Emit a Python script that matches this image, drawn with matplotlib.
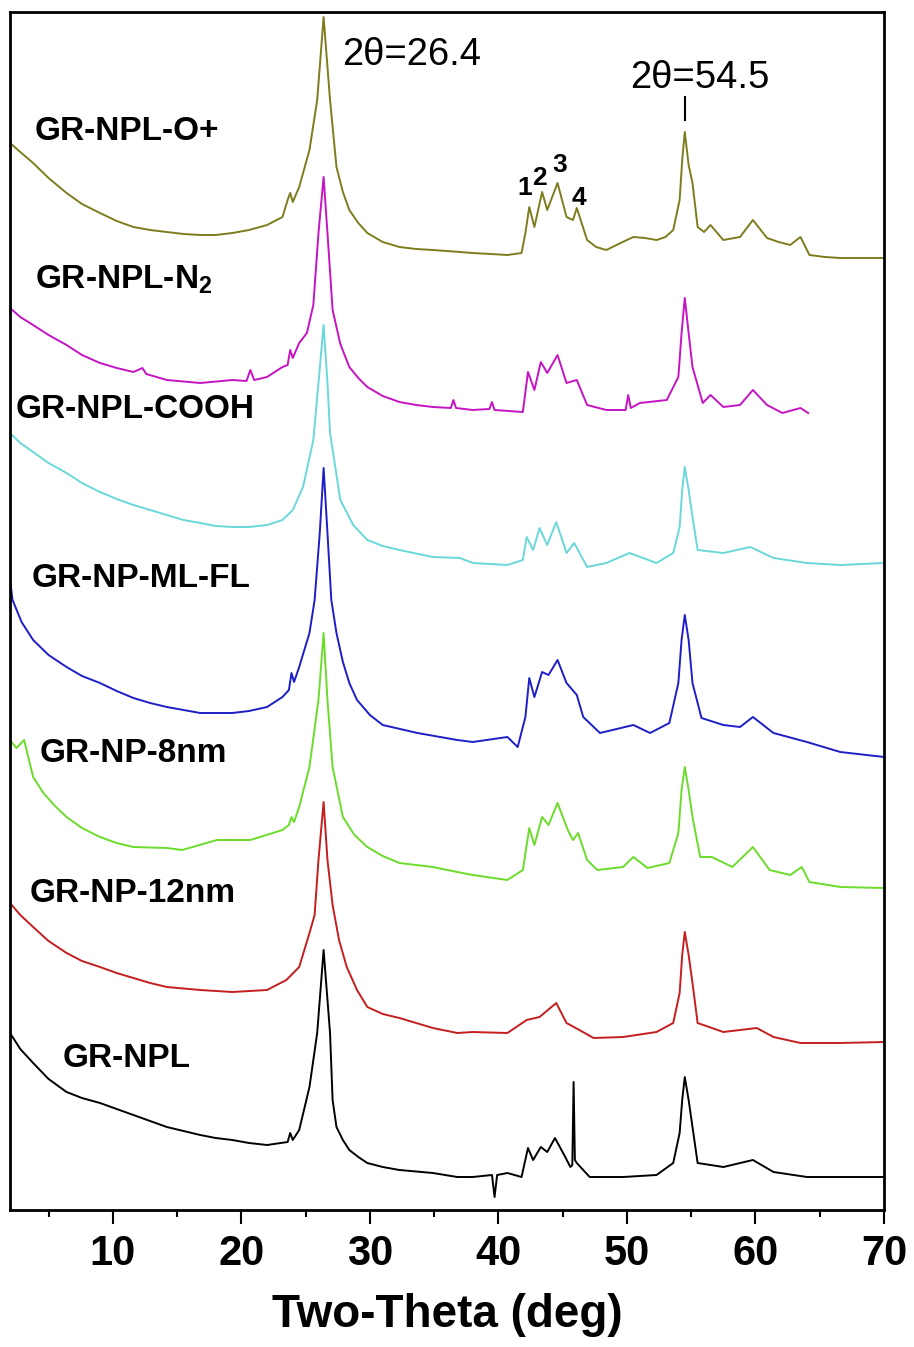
import matplotlib
matplotlib.use("Agg")
import matplotlib.pyplot as plt
from matplotlib.ticker import MultipleLocator

plt.rcParams['font.family'] = ['Liberation Sans', 'DejaVu Sans']
plt.rcParams['mathtext.fontset'] = 'custom'
plt.rcParams['mathtext.rm'] = 'Liberation Sans'
plt.rcParams['mathtext.bf'] = 'Liberation Sans:bold'

# XRD patterns (2-theta in deg, intensity in a.u., already stacked)
NPL_O_TT = [2.0, 2.8, 3.8, 5.0, 6.4, 7.6, 9.0, 10.3, 11.6, 12.9, 14.2, 15.5, 16.8, 18.0, 19.3,
            20.6, 22.0, 23.2, 23.6, 23.8, 24.0, 24.5, 25.3, 25.9, 26.1, 26.4, 26.7, 26.9, 27.4,
            27.9, 28.4, 29.1, 29.8, 31.0, 32.3, 33.6, 34.9, 37.0, 38.0, 39.4, 40.7, 41.8,
            42.1, 42.4, 42.8, 43.4, 43.8, 44.6, 45.3, 45.8, 46.1, 46.9, 47.6, 48.4, 49.5, 50.5,
            51.4, 52.3, 53.0, 53.6, 54.1, 54.3, 54.5, 54.8, 55.1, 55.5, 56.0, 56.5, 57.5, 58.8,
            59.8, 60.9, 61.8, 62.7, 63.5, 64.2, 65.4, 66.6, 68.3, 70.0]
NPL_O_I = [1067, 1058, 1047, 1032, 1017, 1006, 997, 989, 983, 980, 978, 976, 975, 975, 977,
           980, 985, 993, 1010, 1017, 1008, 1023, 1060, 1110, 1143, 1193, 1143, 1110, 1043,
           1018, 1000, 987, 977, 968, 963, 961, 960, 958, 957, 956, 955, 957,
           977, 1003, 983, 1018, 1000, 1027, 993, 990, 1002, 970, 963, 960, 967, 973,
           972, 970, 973, 980, 1010, 1050, 1078, 1045, 1027, 983, 978, 985, 970, 973,
           990, 972, 968, 965, 973, 955, 953, 952, 952, 952]

NPL_N2_TT = [2.0, 2.8, 3.8, 5.0, 6.4, 7.6, 9.0, 10.3, 11.6, 12.3, 12.6, 14.2, 16.8, 19.3, 20.4,
             20.7, 21.0, 22.0, 23.2, 23.6, 23.8, 24.0, 24.5, 25.1, 25.6, 26.0, 26.4, 26.7, 27.1,
             27.7, 28.4, 29.1, 29.8, 31.0, 32.3, 33.6, 34.9, 36.3, 36.5, 36.7, 38.0, 39.3, 39.5,
             39.7, 41.9, 42.3, 42.8, 43.3, 43.8, 44.6, 45.3, 46.1, 46.9, 48.4, 49.9, 50.1, 50.3,
             51.0, 53.1, 54.0, 54.25, 54.5, 54.8, 55.1, 55.9, 56.5, 57.5, 58.8, 59.8, 60.9, 62.1,
             63.5, 64.1]
NPL_N2_I = [902, 893, 885, 875, 865, 855, 847, 842, 838, 842, 836, 830, 827, 830, 829,
            840, 830, 833, 843, 845, 860, 852, 867, 877, 905, 977, 1033, 977, 900,
            866, 843, 832, 823, 814, 808, 805, 803, 802, 810, 802, 800, 801, 808,
            800, 798, 838, 820, 848, 837, 855, 827, 830, 805, 800, 800, 815, 802,
            807, 810, 833, 877, 912, 877, 843, 807, 815, 803, 805, 820, 805, 797,
            802, 797]

NPL_COOH_TT = [2.0, 2.8, 3.8, 5.0, 6.4, 7.6, 9.0, 10.3, 11.6, 12.9, 14.2, 15.5, 16.8, 18.0, 19.3,
               20.6, 22.0, 23.2, 24.0, 24.8, 25.6, 26.0, 26.4, 26.7, 26.9, 27.7, 28.7, 29.8,
               31.0, 32.3, 34.9, 37.0, 38.0, 40.7, 41.9, 42.2, 42.7, 43.2, 43.8, 44.5, 45.3,
               45.9, 46.9, 48.4, 50.2, 52.3, 53.6, 54.1, 54.3, 54.5, 54.8, 55.1, 55.5, 57.5,
               59.6, 61.4, 64.0, 66.6, 70.0]
NPL_COOH_I = [777, 767, 758, 747, 737, 727, 718, 711, 705, 700, 695, 690, 687, 684, 683,
              683, 685, 690, 700, 723, 770, 827, 885, 827, 777, 710, 685, 670,
              664, 660, 653, 652, 647, 645, 650, 673, 660, 682, 665, 688, 657,
              667, 643, 647, 657, 647, 657, 683, 720, 743, 720, 693, 660, 657,
              663, 652, 647, 645, 647]

NP_MLFL_TT = [2.0, 2.2, 2.9, 3.8, 5.0, 6.4, 7.6, 9.0, 10.3, 11.6, 12.9, 14.2, 15.5, 16.8, 19.3,
              20.6, 22.0, 23.2, 23.7, 23.9, 24.1, 24.5, 25.3, 25.7, 26.1, 26.4, 26.7, 27.0, 27.4,
              27.9, 28.4, 29.0, 30.0, 31.0, 33.7, 36.8, 38.0, 40.7, 41.5, 42.1, 42.4, 42.8, 43.4,
              43.9, 44.6, 45.3, 46.1, 46.6, 47.9, 50.5, 51.8, 53.3, 54.0, 54.25, 54.5, 54.8, 55.1,
              55.8, 57.5, 58.8, 59.8, 61.4, 64.0, 66.6, 70.0]
NP_MLFL_I = [630, 610, 588, 570, 555, 543, 534, 527, 519, 512, 507, 503, 500, 497, 497,
             499, 503, 513, 520, 537, 528, 543, 577, 610, 677, 742, 677, 610, 577,
             548, 527, 510, 495, 485, 477, 470, 468, 473, 463, 493, 532, 513, 538,
             535, 550, 527, 515, 493, 477, 485, 477, 487, 527, 570, 595, 570, 527,
             492, 485, 483, 493, 477, 468, 458, 453]

NP_8_TT = [2.0, 2.5, 3.1, 3.8, 4.6, 5.5, 6.4, 7.6, 9.0, 10.3, 11.6, 14.2, 15.4, 18.1, 20.7,
           23.2, 23.7, 23.9, 24.1, 24.5, 25.3, 26.0, 26.4, 26.7, 27.1, 27.9, 28.8, 29.8, 31.0,
           32.3, 34.9, 36.8, 38.0, 40.7, 41.9, 42.4, 42.8, 43.4, 43.9, 44.6, 45.4, 45.8, 46.2,
           46.9, 47.7, 49.7, 50.5, 51.6, 53.3, 54.0, 54.25, 54.5, 54.8, 55.1, 55.7, 56.6, 58.2,
           59.8, 61.1, 62.7, 63.6, 64.2, 66.6, 70.0]
NP_8_I = [470, 462, 470, 433, 417, 404, 393, 382, 373, 367, 363, 362, 360, 370, 370,
          380, 385, 393, 388, 403, 443, 510, 577, 510, 443, 393, 375, 363, 354,
          347, 343, 338, 335, 330, 340, 382, 365, 393, 385, 407, 380, 370, 377,
          350, 340, 343, 353, 342, 347, 377, 420, 443, 420, 393, 353, 353, 343,
          363, 340, 335, 343, 328, 323, 322]

NP_12_TT = [2.0, 2.8, 3.8, 5.0, 6.4, 7.6, 9.0, 10.3, 11.6, 12.9, 14.2, 16.8, 19.3, 22.0, 23.5,
            24.5, 25.3, 25.7, 26.0, 26.4, 26.7, 27.1, 27.6, 28.2, 29.0, 29.8, 31.0, 32.3, 34.9,
            36.8, 38.0, 40.7, 42.2, 43.2, 44.5, 45.3, 46.3, 47.4, 49.7, 52.3, 53.6, 54.1, 54.3,
            54.5, 54.8, 55.1, 55.5, 57.5, 60.1, 61.4, 63.5, 66.6, 70.0]
NP_12_I = [307, 295, 283, 269, 257, 249, 243, 237, 232, 227, 223, 220, 218, 220, 230,
           243, 277, 295, 350, 408, 350, 305, 270, 243, 220, 203, 196, 192, 182,
           177, 178, 177, 190, 193, 207, 187, 180, 172, 173, 178, 187, 217, 255,
           278, 255, 227, 187, 178, 182, 173, 167, 167, 168]

NPL_TT = [2.0, 2.8, 3.8, 5.0, 6.4, 7.6, 9.0, 10.3, 11.6, 12.9, 14.2, 15.5, 16.8, 18.0, 19.3,
          20.6, 22.0, 23.6, 23.8, 24.0, 24.5, 25.3, 25.9, 26.4, 26.9, 27.1, 27.4, 27.9, 28.4,
          29.1, 29.8, 31.0, 32.3, 34.9, 36.8, 38.0, 39.5, 39.7, 39.9, 40.7, 41.8, 42.3, 42.7,
          43.3, 43.8, 44.4, 45.2, 45.6, 45.75, 45.85, 45.95, 46.1, 47.1, 49.7, 52.3, 53.6, 54.1,
          54.3, 54.5, 54.8, 55.1, 55.5, 57.5, 59.8, 61.4, 64.0, 66.6, 70.0]
NPL_I = [177, 161, 147, 131, 118, 112, 107, 101, 95, 89, 83, 79, 75, 72, 70,
         67, 65, 68, 77, 70, 80, 123, 177, 260, 177, 110, 83, 70, 60,
         53, 47, 43, 40, 37, 33, 33, 35, 13, 35, 37, 33, 62, 50,
         63, 58, 72, 53, 43, 45, 128, 50, 47, 33, 33, 35, 47, 77,
         110, 133, 110, 83, 47, 43, 50, 38, 33, 33, 33]

LABELS = ['GR-NPL-O+', 'GR-NPL-N$_\\mathbf{2}$', 'GR-NPL-COOH', 'GR-NP-ML-FL',
          'GR-NP-8nm', 'GR-NP-12nm', 'GR-NPL']
COLORS = ['#7d7d1e', '#c414c4', '#6ad8d8', '#1e1ec8', '#6cdc2c', '#c41e1e', '#000000']
# label anchor (deg, a.u.), baseline-aligned
LABEL_POS = [(3.95, 1070), (3.95, 922), (2.4, 792), (3.7, 623), (4.3, 448), (3.55, 308), (6.1, 143)]

series = [(NPL_O_TT, NPL_O_I), (NPL_N2_TT, NPL_N2_I), (NPL_COOH_TT, NPL_COOH_I),
          (NP_MLFL_TT, NP_MLFL_I), (NP_8_TT, NP_8_I), (NP_12_TT, NP_12_I), (NPL_TT, NPL_I)]

fig = plt.figure(figsize=(9.14, 13.47), dpi=100)
ax = fig.add_axes([10/914, 137/1347, 874/914, 1198/1347])

for (tt, inten), c in zip(series, COLORS):
    ax.plot(tt, inten, color=c, lw=1.4)

for lab, (x, y) in zip(LABELS, LABEL_POS):
    ax.text(x, y, lab, fontsize=24, fontweight='bold', va='baseline', ha='left')

# peak annotations
ax.text(27.85, 1145, '2\u03b8=26.4', fontsize=27.5, va='baseline', ha='left')
ax.text(50.25, 1122, '2\u03b8=54.5', fontsize=27.5, va='baseline', ha='left')
ax.plot([54.5, 54.5], [1090, 1113], color='black', lw=1.5)
for num, x, y in [('1', 41.5, 1015), ('2', 42.65, 1025), ('3', 44.2, 1038), ('4', 45.7, 1005)]:
    ax.text(x, y, num, fontsize=19, fontweight='bold', va='baseline', ha='left')

ax.set_xlim(2, 70)
ax.set_ylim(0, 1198)
ax.set_yticks([])
ax.xaxis.set_major_locator(MultipleLocator(10))
ax.xaxis.set_minor_locator(MultipleLocator(5))
ax.tick_params(axis='x', which='major', direction='out', length=10, width=1.5,
               labelsize=30, pad=7)
ax.tick_params(axis='x', which='minor', direction='out', length=5, width=1.5)
for lbl in ax.get_xticklabels():
    lbl.set_fontweight('bold')
for sp in ax.spines.values():
    sp.set_linewidth(2)
ax.set_xlabel('Two-Theta (deg)', fontsize=33, fontweight='bold', labelpad=14)

fig.savefig('out.png', dpi=100)
